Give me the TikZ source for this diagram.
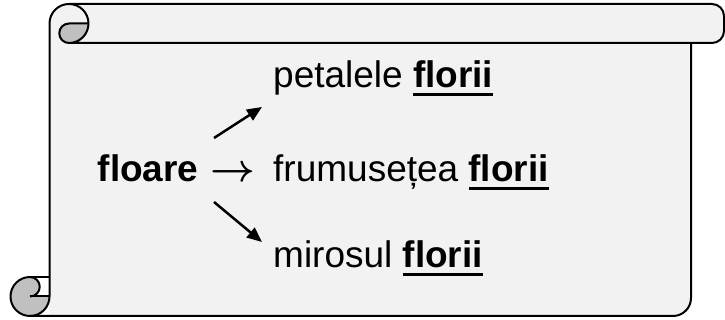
\documentclass[tikz,border=0pt]{standalone}
\usepackage{graphicx}
\usepackage{fontspec}
\setmainfont{Liberation Sans}
\usetikzlibrary{arrows.meta}
\definecolor{paper}{HTML}{F2F2F2}
\definecolor{curl}{HTML}{C0C0C0}
\newcommand\ulflor[1]{\setbox0\hbox{\bfseries #1}\rlap{\rule[-7.7pt]{\wd0}{3pt}}\box0}
\begin{document}
\begin{tikzpicture}[x=1pt,y=1pt,
  outline/.style={line width=2pt, line join=round},
  lbl/.style={anchor=base west, inner sep=0pt, font=\fontsize{37}{44}\selectfont},
  branch/.style={line width=2.5pt, -{Triangle[length=15pt,width=12.5pt]}}]
\useasboundingbox (0,0) rectangle (725,320);
% paper fill
\fill[paper] (49.5,4) -- (673,4) arc[start angle=-90,end angle=0,radius=18] -- (691,277) -- (712,277)
  arc[start angle=-90,end angle=0,radius=12] -- (724,304) arc[start angle=0,end angle=90,radius=12]
  -- (69,316) arc[start angle=90,end angle=180,radius=19.5] -- (49.5,4) -- cycle;
% curls
\fill[curl] (69,296.5) -- (88.5,296.5) arc[start angle=0,end angle=-90,radius=19.5]
  arc[start angle=270,end angle=90,radius=9.75] -- cycle;
\fill[curl] (30,43) arc[start angle=90,end angle=360,radius=19.5] -- (30,23.5)
  arc[start angle=-90,end angle=90,radius=9.75] -- cycle;
% outlines
\draw[outline] (30,43) arc[start angle=90,end angle=360,radius=19.5] -- (49.5,296.5)
  arc[start angle=180,end angle=-90,radius=19.5] -- (712,277)
  arc[start angle=-90,end angle=0,radius=12] -- (724,304)
  arc[start angle=0,end angle=90,radius=12] -- (69,316);
\draw[outline] (30,4) -- (673,4) arc[start angle=-90,end angle=0,radius=18] -- (691,277);
\draw[outline] (30,43) -- (49.5,43);
\draw[outline] (30,23.5) -- (49.5,23.5);
\draw[outline] (30,43) arc[start angle=90,end angle=-90,radius=9.75];
\draw[outline] (69,277) arc[start angle=270,end angle=90,radius=9.75] -- (88.5,296.5);
% texts
\node[lbl] (l1) at (273,232) {petalele \ulflor{florii}};
\node[lbl] (l2) at (273,138) {frumusețea \ulflor{florii}};
\node[lbl] (l3) at (273,52) {mirosul \ulflor{florii}};
\node[lbl,font=\fontsize{37}{44}\selectfont\bfseries] (src) at (97.5,138) {floare};
\node[lbl,font=\normalsize] (arr) at (210,138) {\scalebox{3.9}{\boldmath$\rightarrow$}};
% arrows
\coordinate (u0) at (214,182);
\coordinate (u1) at (262,213);
\coordinate (d0) at (214,118);
\coordinate (d1) at (262,78);
\draw[branch] (u0) -- (u1);
\draw[branch] (d0) -- (d1);
\end{tikzpicture}
\end{document}
